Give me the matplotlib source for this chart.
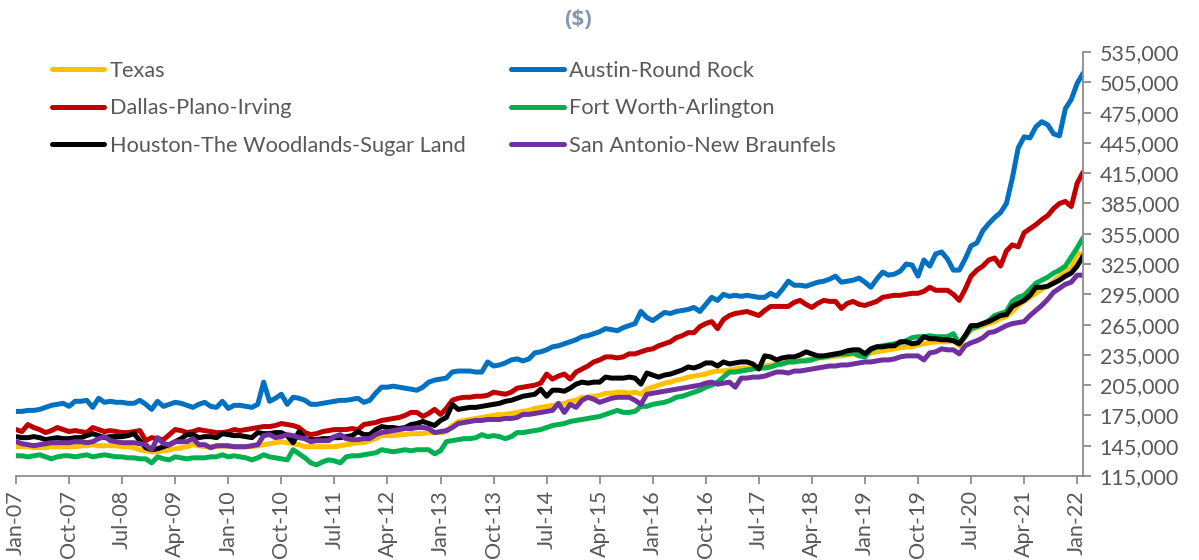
import numpy as np
import matplotlib.pyplot as plt
from matplotlib.ticker import FuncFormatter

# monthly median prices, thousands of $, Jan-07 .. Feb-22
texas = [
    144, 144, 144, 143, 143, 143, 144, 144, 144, 144, 144, 145,
    145, 146, 145, 145, 145, 145, 144, 144, 143, 141, 140, 139,
    139, 140, 141, 142, 143, 144, 146, 145, 144, 144, 144, 145,
    144, 144, 144, 144, 144, 145, 146, 147, 148, 149, 148, 147,
    146, 144, 144, 144, 144, 144, 144, 145, 146, 147, 148, 148,
    150, 152, 155, 155, 155, 156, 156, 157, 157, 157, 158, 158,
    158, 159, 165, 169, 170, 171, 172, 173, 174, 175, 176, 176,
    177, 178, 179, 180, 182, 183, 184, 185, 186, 187, 189, 190,
    193, 193, 194, 195, 197, 197, 198, 198, 197, 198, 196, 201,
    203, 205, 207, 208, 210, 211, 213, 214, 215, 216, 218, 219,
    219, 220, 221, 222, 222, 222, 223, 224, 225, 226, 227, 228,
    228, 229, 230, 231, 232, 232, 233, 234, 234, 235, 236, 237,
    236, 237, 238, 239, 240, 241, 242, 243, 243, 245, 246, 247,
    248, 248, 248, 249, 244, 254, 260, 262, 264, 266, 268, 271,
    273, 278, 284, 288, 292, 296, 300, 303, 308, 313, 318, 321, 336, 334]

austin = [
    179, 179, 180, 180, 181, 183, 185, 186, 187, 184, 189, 189,
    190, 183, 192, 188, 189, 188, 188, 187, 187, 190, 186, 181,
    189, 184, 186, 188, 187, 185, 183, 186, 188, 184, 183, 189,
    182, 185, 185, 184, 183, 186, 208, 189, 192, 196, 186, 193,
    192, 190, 186, 186, 187, 188, 189, 190, 190, 191, 192, 188,
    190, 197, 203, 203, 204, 203, 202, 201, 200, 203, 208, 210,
    211, 212, 218, 219, 219, 219, 218, 218, 228, 224, 225, 227,
    230, 231, 229, 231, 237, 238, 240, 243, 244, 246, 248, 250,
    253, 254, 256, 258, 261, 260, 259, 262, 264, 266, 278, 272,
    269, 273, 277, 276, 278, 279, 280, 282, 278, 285, 292, 289,
    295, 293, 294, 293, 294, 293, 292, 292, 296, 293, 300, 308,
    304, 304, 303, 305, 307, 308, 310, 313, 307, 308, 309, 311,
    307, 302, 310, 317, 314, 315, 318, 325, 324, 313, 329, 323,
    335, 337, 330, 319, 319, 330, 343, 346, 358, 365, 371, 376,
    385, 410, 440, 451, 450, 461, 466, 463, 454, 452, 479, 488, 504, 514]

dallas = [
    161, 159, 166, 163, 161, 158, 160, 163, 161, 159, 160, 159,
    158, 163, 161, 159, 160, 159, 158, 158, 159, 160, 150, 153,
    152, 151, 156, 161, 160, 158, 159, 161, 160, 159, 158, 158,
    159, 161, 160, 161, 162, 163, 164, 164, 165, 167, 166, 165,
    163, 158, 156, 157, 159, 160, 161, 161, 161, 162, 161, 166,
    167, 168, 170, 171, 172, 173, 175, 178, 178, 174, 177, 181,
    176, 182, 190, 192, 193, 193, 194, 194, 195, 198, 197, 196,
    198, 202, 203, 204, 205, 207, 216, 211, 214, 216, 211, 218,
    221, 224, 228, 230, 233, 233, 232, 233, 236, 236, 238, 240,
    241, 244, 246, 248, 252, 254, 257, 257, 263, 266, 268, 261,
    270, 274, 276, 277, 278, 276, 274, 279, 283, 283, 283, 283,
    287, 289, 285, 282, 286, 289, 288, 288, 281, 286, 288, 285,
    284, 286, 288, 292, 293, 294, 294, 295, 296, 296, 298, 302,
    299, 299, 299, 295, 289, 300, 313, 319, 323, 329, 331, 323,
    338, 344, 342, 356, 360, 364, 369, 373, 380, 385, 387, 382, 405, 416]

fort_worth = [
    135, 135, 134, 135, 136, 134, 132, 134, 135, 135, 134, 135,
    136, 134, 135, 136, 135, 134, 134, 133, 133, 132, 132, 128,
    134, 132, 131, 134, 133, 132, 133, 133, 133, 134, 134, 136,
    134, 135, 134, 133, 131, 133, 136, 134, 133, 132, 131, 141,
    137, 133, 128, 126, 129, 131, 130, 128, 134, 135, 135, 136,
    137, 138, 141, 140, 139, 140, 141, 140, 141, 141, 141, 137,
    140, 149, 150, 151, 152, 152, 153, 156, 154, 155, 154, 152,
    154, 158, 158, 159, 160, 161, 163, 165, 166, 167, 169, 170,
    171, 172, 173, 174, 176, 178, 180, 178, 178, 179, 184, 184,
    186, 187, 188, 190, 193, 194, 196, 198, 200, 203, 205, 208,
    213, 218, 218, 219, 220, 221, 222, 222, 223, 225, 226, 228,
    228, 229, 229, 230, 232, 233, 234, 235, 236, 236, 237, 234,
    233, 240, 243, 244, 245, 246, 247, 249, 252, 253, 253, 254,
    253, 253, 253, 256, 246, 253, 261, 263, 266, 269, 274, 276,
    278, 288, 292, 294, 300, 306, 309, 312, 316, 319, 323, 332, 341, 351]

houston = [
    154, 153, 153, 154, 153, 151, 152, 153, 152, 152, 153, 153,
    155, 157, 155, 153, 154, 154, 154, 155, 157, 150, 143, 141,
    142, 144, 146, 149, 152, 156, 156, 153, 154, 154, 153, 157,
    156, 155, 155, 154, 153, 158, 157, 157, 158, 158, 155, 148,
    159, 152, 151, 151, 152, 152, 153, 153, 154, 155, 159, 156,
    156, 161, 164, 163, 163, 162, 163, 166, 167, 169, 167, 165,
    170, 173, 186, 181, 182, 183, 183, 184, 185, 186, 187, 189,
    190, 192, 194, 195, 196, 201, 194, 200, 200, 199, 202, 206,
    208, 207, 208, 208, 213, 212, 212, 212, 213, 212, 206, 217,
    215, 213, 215, 216, 218, 220, 223, 222, 224, 227, 227, 224,
    228, 226, 227, 228, 228, 226, 221, 234, 233, 230, 232, 233,
    233, 235, 238, 236, 234, 234, 235, 236, 237, 239, 240, 240,
    236, 241, 243, 243, 244, 244, 248, 248, 246, 247, 253, 251,
    251, 250, 250, 249, 246, 254, 264, 264, 266, 268, 271, 274,
    275, 283, 286, 289, 294, 302, 302, 303, 306, 309, 313, 316, 323, 333]

san_antonio = [
    149, 147, 146, 145, 146, 147, 148, 148, 148, 148, 149, 149,
    148, 149, 152, 154, 150, 149, 148, 148, 148, 147, 146, 141,
    153, 147, 146, 149, 149, 149, 152, 146, 146, 143, 145, 145,
    145, 144, 144, 144, 145, 146, 155, 156, 153, 154, 156, 155,
    153, 152, 149, 150, 150, 150, 154, 156, 152, 151, 151, 152,
    152, 156, 158, 159, 160, 161, 162, 162, 163, 163, 162, 158,
    159, 160, 163, 167, 168, 169, 170, 170, 171, 171, 171, 172,
    172, 173, 176, 176, 177, 178, 179, 180, 187, 178, 186, 183,
    190, 193, 191, 188, 190, 192, 193, 193, 193, 190, 186, 196,
    197, 198, 199, 200, 201, 202, 203, 204, 205, 207, 208, 206,
    207, 208, 203, 212, 212, 213, 213, 214, 216, 218, 218, 217,
    219, 219, 220, 221, 222, 223, 224, 224, 225, 225, 226, 227,
    228, 228, 229, 230, 230, 231, 233, 234, 234, 234, 230, 237,
    238, 241, 240, 240, 236, 244, 247, 249, 252, 257, 258, 261,
    264, 266, 267, 268, 274, 279, 284, 290, 297, 301, 305, 307, 314, 314]

tick_labels = ['Jan-07', 'Oct-07', 'Jul-08', 'Apr-09', 'Jan-10', 'Oct-10', 'Jul-11',
               'Apr-12', 'Jan-13', 'Oct-13', 'Jul-14', 'Apr-15', 'Jan-16', 'Oct-16',
               'Jul-17', 'Apr-18', 'Jan-19', 'Oct-19', 'Jul-20', 'Apr-21', 'Jan-22']

series = [
    ('Texas', texas, '#FFC000'),
    ('Austin-Round Rock', austin, '#0070C0'),
    ('Dallas-Plano-Irving', dallas, '#C00000'),
    ('Fort Worth-Arlington', fort_worth, '#00B050'),
    ('Houston-The Woodlands-Sugar Land', houston, '#000000'),
    ('San Antonio-New Braunfels', san_antonio, '#7030A0'),
]

plt.rcParams['font.family'] = ['Lato', 'DejaVu Sans']
txt = '#595959'
axc = '#8C8C8C'

fig = plt.figure(figsize=(11.99, 5.6), dpi=100)
ax = fig.add_axes([0.0134, 0.15, 0.8899, 0.757])

lines = {}
for name, vals, col in series:
    x = np.arange(len(vals))
    ln, = ax.plot(x, np.array(vals) * 1000, color=col, lw=3.6,
                  solid_joinstyle='round', solid_capstyle='round', label=name)
    lines[name] = ln

ax.set_xlim(0, 181)
ax.set_ylim(115000, 535000)
ax.set_yticks(np.arange(115000, 535001, 30000))
ax.yaxis.set_major_formatter(FuncFormatter(lambda v, p: f'{int(v):,}'))
ax.yaxis.tick_right()
ax.set_xticks(np.arange(0, 181, 9))
ax.set_xticklabels(tick_labels, rotation=90)

for s in ['top', 'left']:
    ax.spines[s].set_visible(False)
for s in ['bottom', 'right']:
    ax.spines[s].set_color(axc)
    ax.spines[s].set_linewidth(1.3)
ax.tick_params(axis='both', colors=axc, labelcolor=txt, labelsize=15.5,
               length=6, width=1.3, direction='out')
ax.tick_params(axis='y', pad=6)
ax.tick_params(axis='x', pad=4)

order = ['Texas', 'Dallas-Plano-Irving', 'Houston-The Woodlands-Sugar Land',
         'Austin-Round Rock', 'Fort Worth-Arlington', 'San Antonio-New Braunfels']
leg = fig.legend([lines[n] for n in order], order, ncol=2, loc='upper left',
                 bbox_to_anchor=(0.036, 0.907), frameon=False, fontsize=15.7,
                 handlelength=2.4, handletextpad=0.25, columnspacing=2.1,
                 labelspacing=0.8, borderaxespad=0)
for t in leg.get_texts():
    t.set_color(txt)

fig.text(0.482, 0.966, '($)', ha='center', va='center', fontsize=16,
         fontweight='bold', family=['Open Sans', 'DejaVu Sans'], color='#8497B0')

fig.savefig('out.png', dpi=100)
